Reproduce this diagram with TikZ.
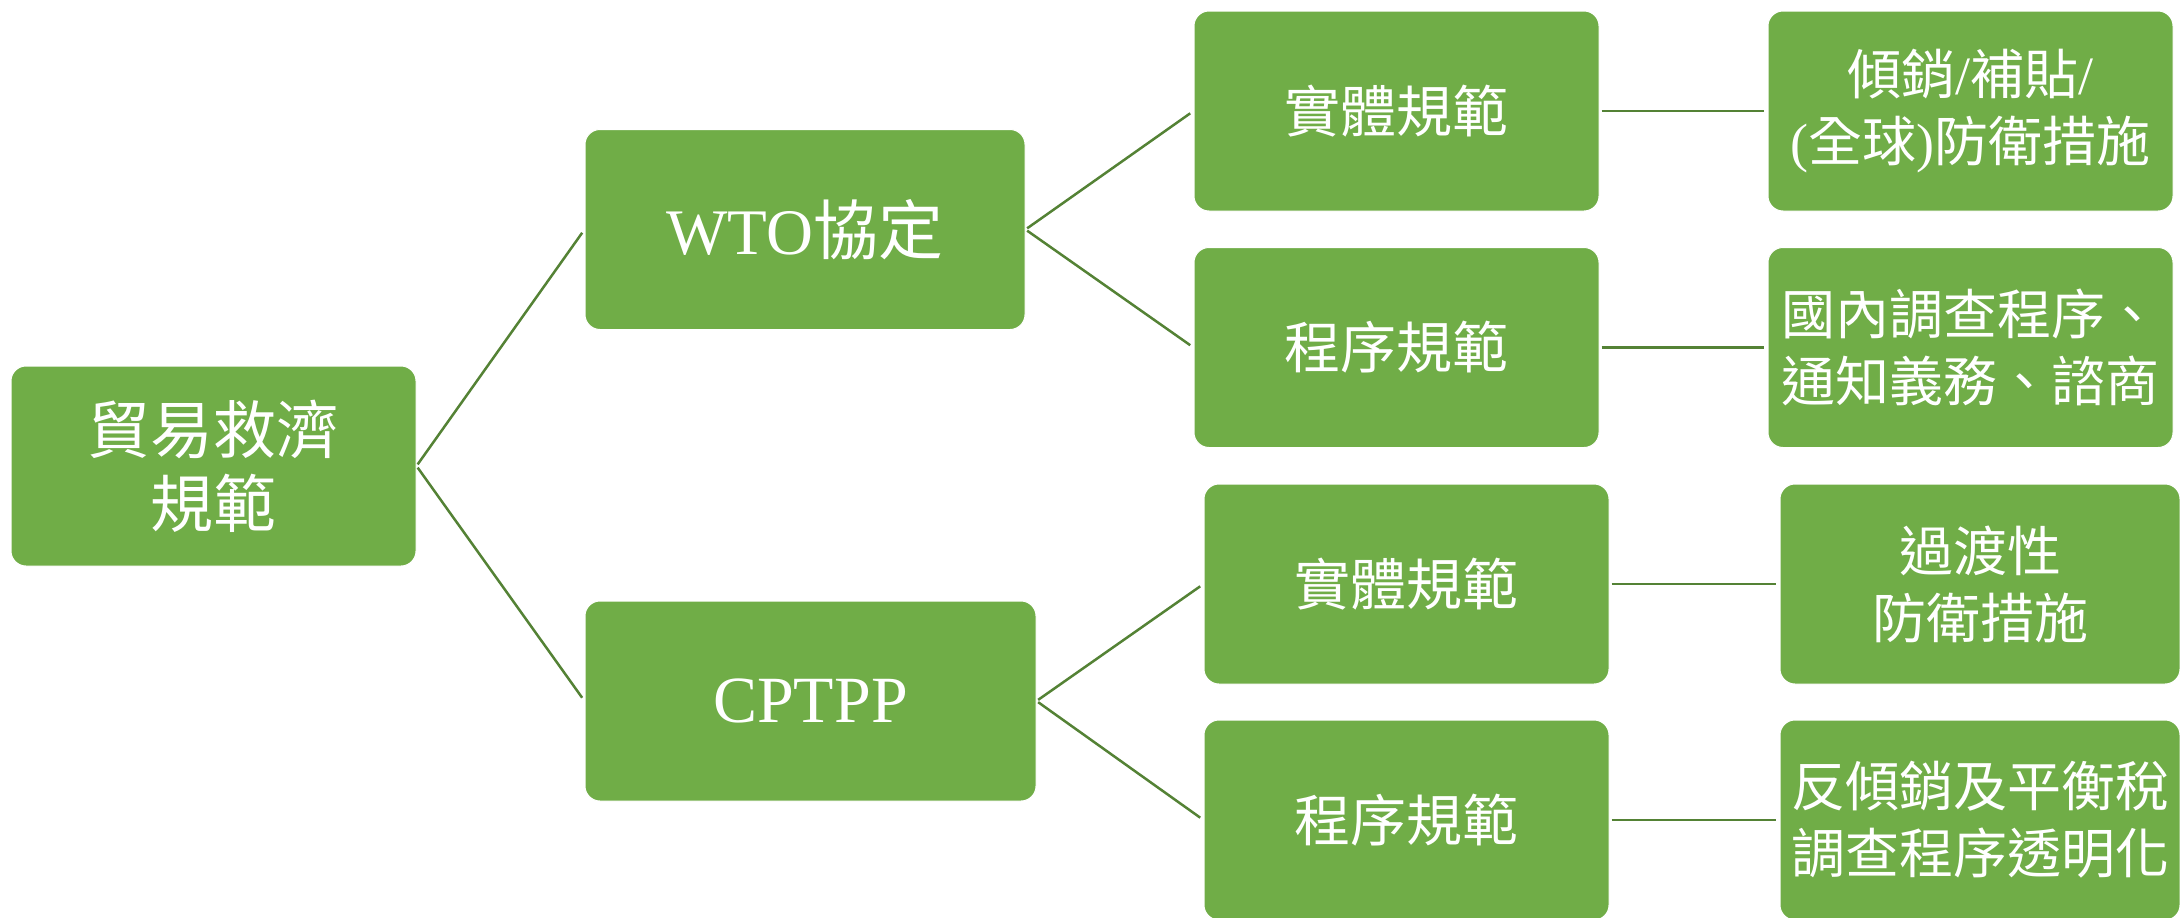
\documentclass[tikz,border=0pt]{standalone}
\usepackage{fontspec}
\setmainfont{Liberation Serif}
\newfontfamily\cjk{Noto Sans CJK TC}
\definecolor{boxgreen}{HTML}{70AD47}
\definecolor{linegreen}{HTML}{548235}
\begin{document}
\begin{tikzpicture}[x=1pt,y=-1pt,
  box/.style={rectangle, rounded corners=15pt, fill=boxgreen, draw=white, line width=1pt,
    text=white, minimum height=200pt, align=center, inner sep=0pt},
  conn/.style={draw=linegreen, line width=2.5pt, shorten <=2pt, shorten >=4pt},
  f0/.style={font=\cjk\fontsize{63}{74}\selectfont},
  f1/.style={font=\cjk\fontsize{65}{74}\selectfont},
  f2/.style={font=\cjk\fontsize{56}{64}\selectfont},
  f3/.style={font=\cjk\fontsize{54}{67}\selectfont}]
\useasboundingbox (0,0) rectangle (2180,918);
\node[box,f0,minimum width=405pt] (root) at (213.5,466) {貿易救濟\\規範};
\node[box,f1,minimum width=440pt] (wto) at (805,229.5) {{\rmfamily\fontsize{65}{74}\selectfont WTO}協定};
\node[box,f1,minimum width=451pt] (cptpp) at (810.5,701) {{\rmfamily\fontsize{66}{74}\selectfont CPTPP}};
\node[box,f2,minimum width=405pt] (w1) at (1396.5,111) {實體規範};
\node[box,f2,minimum width=405pt] (w2) at (1396.5,347.5) {程序規範};
\node[box,f3,minimum width=405pt] (w1r) at (1970.5,111) {傾銷{\rmfamily /}補貼{\rmfamily /}\\{\rmfamily (}全球{\rmfamily )}防衛措施};
\node[box,f3,minimum width=405pt] (w2r) at (1970.5,347.5) {國內調查程序、\\通知義務、諮商};
\node[box,f2,minimum width=405pt] (c1) at (1406.5,584) {實體規範};
\node[box,f2,minimum width=405pt] (c2) at (1406.5,820) {程序規範};
\node[box,f3,minimum width=400pt] (c1r) at (1980,584) {過渡性\\防衛措施};
\node[box,f3,minimum width=400pt] (c2r) at (1980,820) {反傾銷及平衡稅\\調查程序透明化};
\draw[conn] (root.east) -- (wto.west);
\draw[conn] (root.east) -- (cptpp.west);
\draw[conn] (wto.east) -- (w1.west);
\draw[conn] (wto.east) -- (w2.west);
\draw[conn] (cptpp.east) -- (c1.west);
\draw[conn] (cptpp.east) -- (c2.west);
\draw[conn] (w1.east) -- (w1r.west);
\draw[conn] (w2.east) -- (w2r.west);
\draw[conn] (c1.east) -- (c1r.west);
\draw[conn] (c2.east) -- (c2r.west);
\end{tikzpicture}
\end{document}
